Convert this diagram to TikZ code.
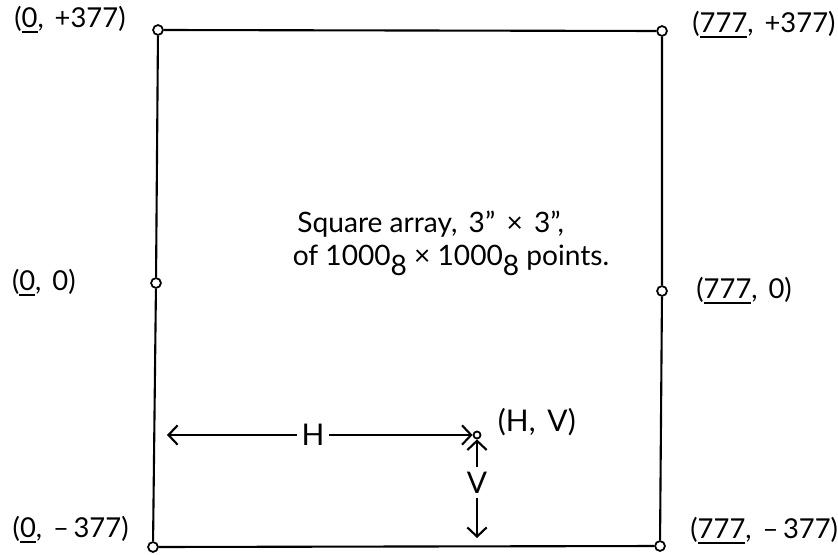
\documentclass[tikz,border=0pt]{standalone}
\usepackage{fontspec}
\setmainfont{Lato}
\usepackage{tikz}
\usetikzlibrary{positioning, arrows.meta}

\tikzset{
    corner/.style={circle, draw, fill=white, inner sep=0pt, minimum size=2.8pt, line width=0.5pt},
    coord/.style={font=\fontsize{7.8}{10}\selectfont, inner sep=1pt},
}
\newcommand{\gap}{\hspace{0.4em}}

\begin{document}
\begin{tikzpicture}[line width=0.6pt, >={Straight Barb[length=2.6pt, width=5.5pt]}]
        \useasboundingbox (0,0) rectangle (8.38,5.54);

        \node[corner] (TL) at (1.58,5.24) {};
        \node[corner] (TR) at (6.62,5.23) {};
        \node[corner] (ML) at (1.56,2.71) {};
        \node[corner] (MR) at (6.62,2.63) {};
        \node[corner] (BL) at (1.53,0.07) {};
        \node[corner] (BR) at (6.60,0.08) {};

        \draw (TL) -- (TR) -- (MR) -- (BR) -- (BL) -- (ML) -- (TL);

        \node[coord] (lTL) [left=0.22 of TL, yshift=0.1cm] {(\underline{0},\gap+377)};
        \node[coord] (lTR) [right=0.2 of TR, yshift=0.06cm] {(\underline{777},\gap+377)};
        \node[coord] (lML) [left=0.7 of ML] {(\underline{0},\gap0)};
        \node[coord] (lMR) [right=0.24 of MR] {(\underline{777},\gap0)};
        \node[coord] (lBL) [left=0.14 of BL, yshift=0.17cm] {(\underline{0},\gap--\,377)};
        \node[coord] (lBR) [right=0.2 of BR, yshift=0.15cm] {(\underline{777},\gap--\,377)};

        \node[font=\fontsize{8}{9.4}\selectfont, align=left, anchor=west] (info) at (2.80,3.11)
            {\,Square array,\gap3"\gap×\gap3",\\of 1000\raisebox{-0.7ex}{8} × 1000\raisebox{-0.7ex}{8} points.};

        % the point (H, V)
        \node[corner, minimum size=2pt] (HV) at (4.77,1.19) {};
        \node[coord, font=\fontsize{8.5}{10}\selectfont] (lHV) [right=0.12 of HV, yshift=0.13cm] {(H,\gap V)};

        \coordinate (Hl) at (1.67,1.19);
        \coordinate (Vb) at (4.77,0.16);
        \node[coord, font=\fontsize{8.5}{10}\selectfont] (H) at (3.13,1.19) {H};
        \node[coord, font=\fontsize{8.5}{10}\selectfont] (V) [below=0.28 of HV] {V};

        \path[->]
        (H) edge (Hl)
        (H) edge (HV)
        (V) edge (HV)
        (V) edge (Vb);

\end{tikzpicture}
\end{document}
